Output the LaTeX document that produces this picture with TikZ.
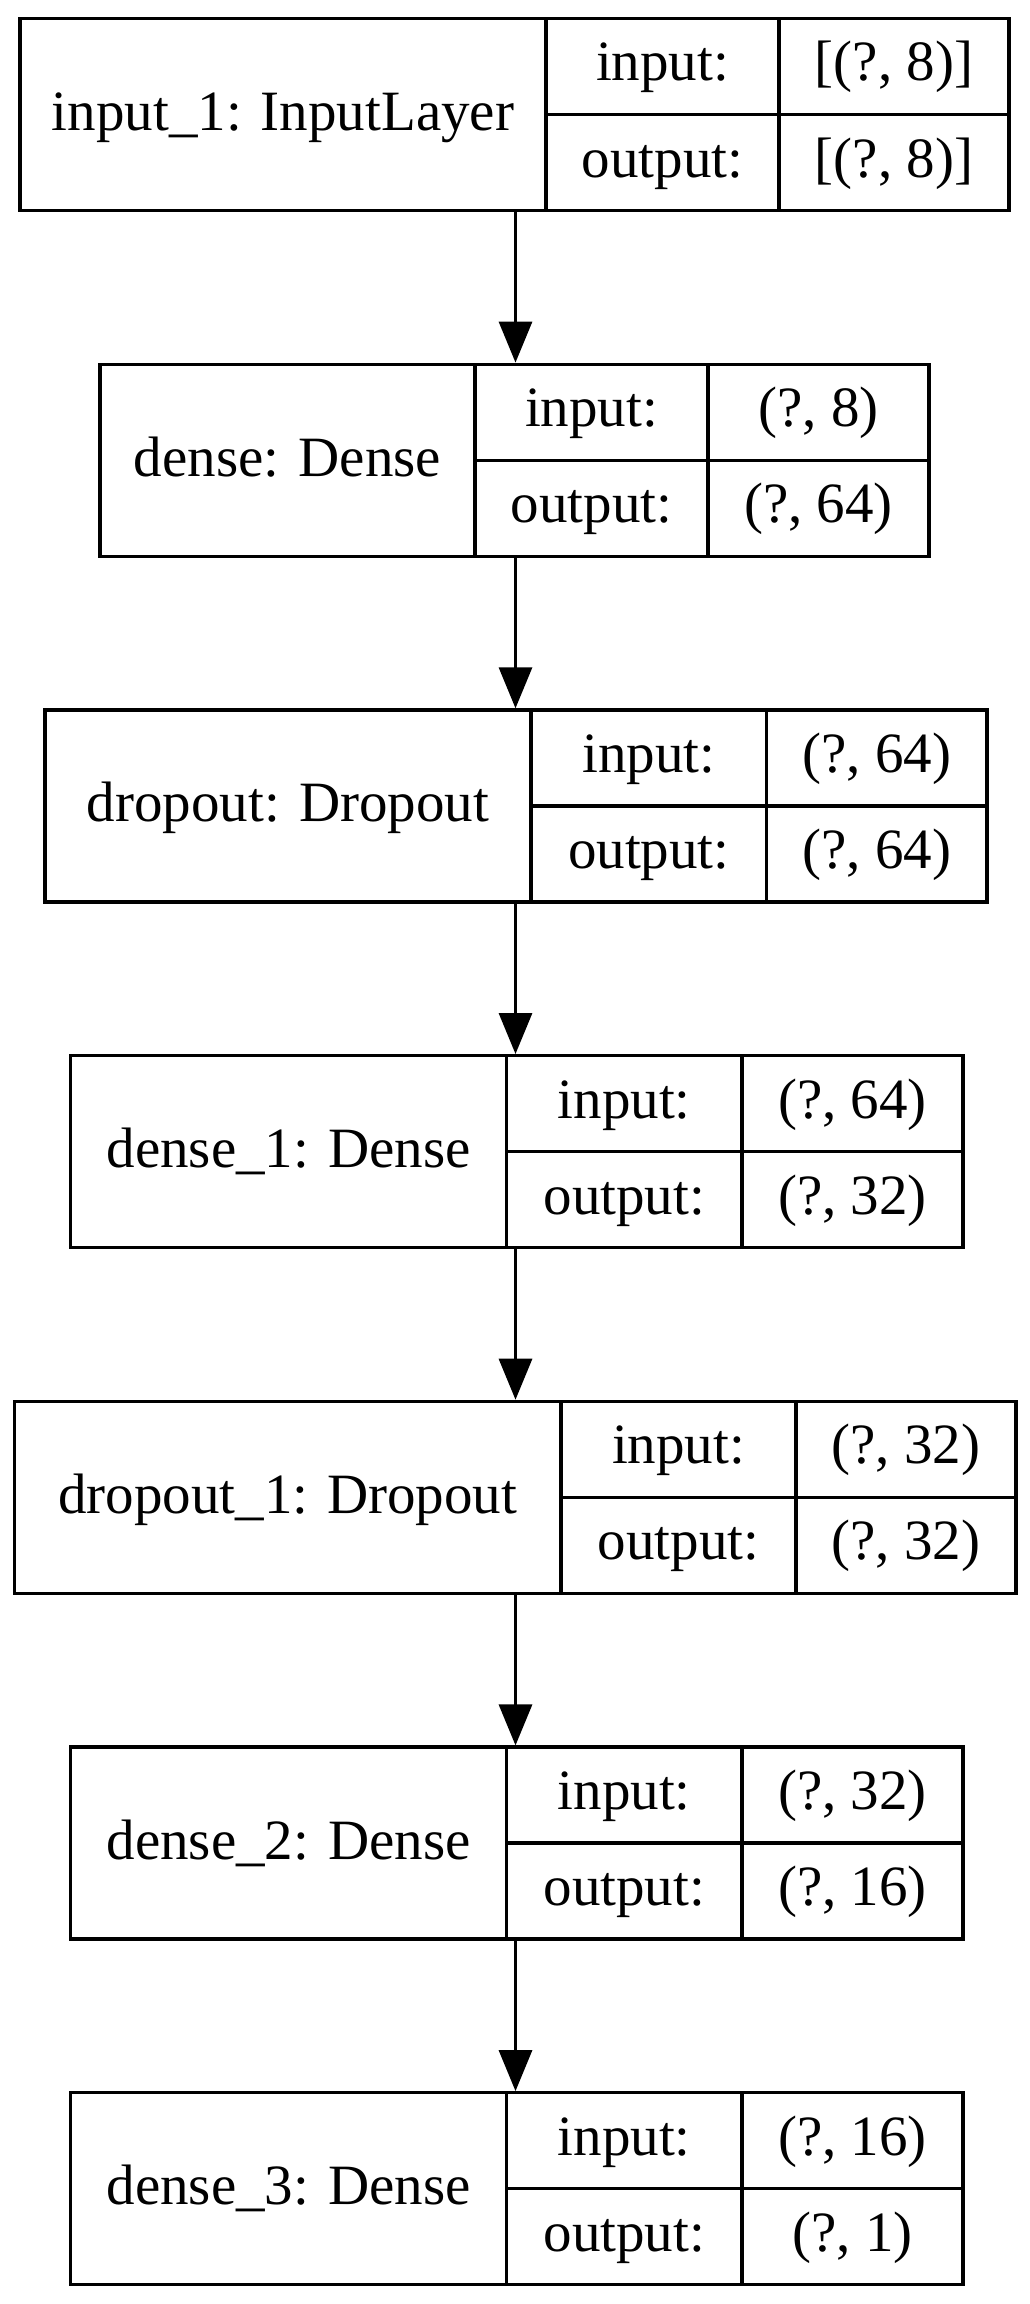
\documentclass[tikz,border=0pt]{standalone}
\usepackage{fontspec}
\setmainfont{Liberation Serif}
\usetikzlibrary{arrows.meta}
\tikzset{
  ln/.style={line width=3.2pt, line cap=rect},
  boxnode/.style={draw, line width=3.2pt, rectangle, inner sep=0pt},
  txt/.style={inner sep=0pt, anchor=base, font=\fontsize{57}{68}\selectfont},
  conn/.style={line width=3.2pt, -{Triangle[length=41pt,width=33pt]}}
}
% #1 name, #2 left, #3 div1, #4 div2, #5 right, #6 top, #7 label, #8 in, #9 out
\newcommand{\mylayer}[9]{%
  \node[boxnode, minimum width={(#5-#2)*1pt}, minimum height=192pt] (#1) at ({(#2+#5)/2},{#6+96}) {};
  \draw[ln] (#3,#6) -- (#3,#6+192);
  \draw[ln] (#4,#6) -- (#4,#6+192);
  \draw[ln] (#3,#6+96) -- (#5,#6+96);
  \node[txt] (#1-lab) at ({(#2+#3)/2},{#6+96+16}) {#7};
  \node[txt] (#1-inl) at ({(#3+#4)/2},{#6+48+14.5}) {input:};
  \node[txt] (#1-inv) at ({(#4+#5)/2},{#6+48+14.5}) {#8};
  \node[txt] (#1-outl) at ({(#3+#4)/2},{#6+144+14.5}) {output:};
  \node[txt] (#1-outv) at ({(#4+#5)/2},{#6+144+14.5}) {#9};
}
\begin{document}
\begin{tikzpicture}[x=1pt,y=-1pt]
  \fill[white] (0,0) rectangle (1029,2304);
  \useasboundingbox (0,0) rectangle (1029,2304);
  \coordinate (ax) at (515.5,0);
  \mylayer{L1}{20}{546}{779}{1009}{18.5}{input\_1: InputLayer}{[(?, 8)]}{[(?, 8)]}
  \mylayer{L2}{100}{475}{708}{929}{364.2}{dense: Dense}{(?, 8)}{(?, 64)}
  \mylayer{L3}{45}{531}{766.5}{987}{709.9}{dropout: Dropout}{(?, 64)}{(?, 64)}
  \mylayer{L4}{70.6}{506.6}{742}{963}{1055.6}{dense\_1: Dense}{(?, 64)}{(?, 32)}
  \mylayer{L5}{14.5}{561}{796}{1016}{1401.3}{dropout\_1: Dropout}{(?, 32)}{(?, 32)}
  \mylayer{L6}{70.6}{506.6}{742}{963}{1747}{dense\_2: Dense}{(?, 32)}{(?, 16)}
  \mylayer{L7}{70.6}{506.6}{742}{963}{2092.7}{dense\_3: Dense}{(?, 16)}{(?, 1)}
  \draw[conn] (L1.south -| ax) -- (L2.north -| ax);
  \draw[conn] (L2.south -| ax) -- (L3.north -| ax);
  \draw[conn] (L3.south -| ax) -- (L4.north -| ax);
  \draw[conn] (L4.south -| ax) -- (L5.north -| ax);
  \draw[conn] (L5.south -| ax) -- (L6.north -| ax);
  \draw[conn] (L6.south -| ax) -- (L7.north -| ax);
\end{tikzpicture}
\end{document}
